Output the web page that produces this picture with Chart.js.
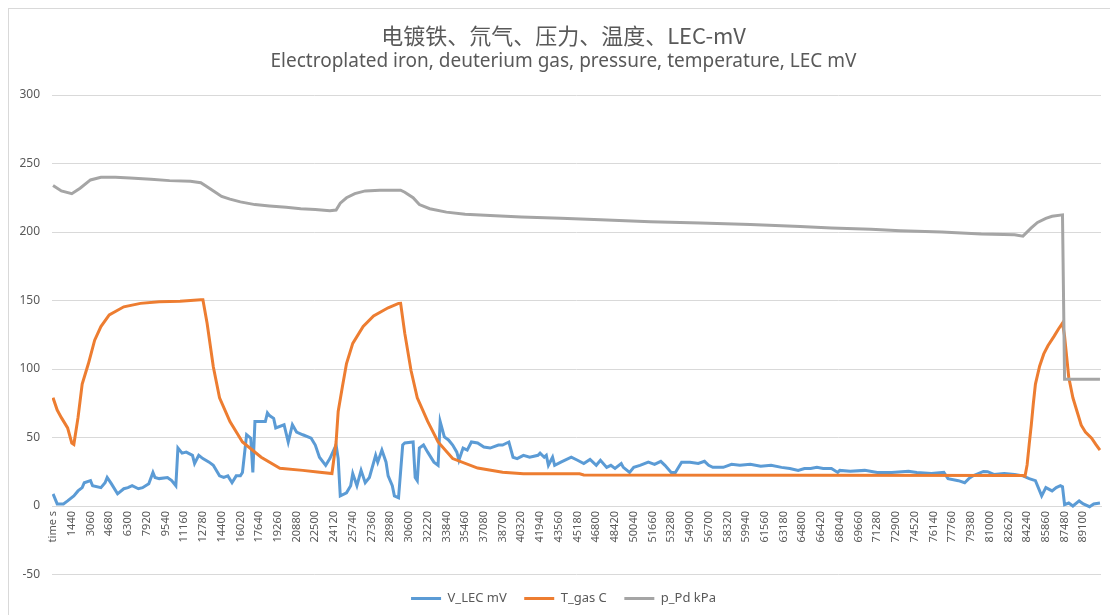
<!DOCTYPE html>
<html>
<head>
<meta charset="utf-8">
<title>LEC-mV</title>
<script src="https://cdn.jsdelivr.net/npm/chart.js@4/dist/chart.umd.min.js"></script>
<style>
  html, body { margin: 0; padding: 0; background: #fff; overflow: hidden; }
  #wrap { position: relative; width: 1110px; height: 615px; }
  #frame { position: absolute; left: 8px; top: 8px; width: 1120px; height: 640px; border: 1px solid #d9d9d9; }
  #c { position: absolute; left: 0; top: 0; }
</style>
</head>
<body>
<div id="wrap">
  <div id="frame"></div>
  <canvas id="c" width="1110" height="615"></canvas>
</div>
<script>
// category labels shown on the x axis (every 9th row of the sheet)
const xLabels = ['time s', '1440', '3060', '4680', '6300', '7920', '9540', '11160', '12780', '14400',
  '16020', '17640', '19260', '20880', '22500', '24120', '25740', '27360', '28980', '30600',
  '32220', '33840', '35460', '37080', '38700', '40320', '41940', '43560', '45180', '46800',
  '48420', '50040', '51660', '53280', '54900', '56700', '58320', '59940', '61560', '63180',
  '64800', '66420', '68040', '69660', '71280', '72900', '74520', '76140', '77760', '79380',
  '81000', '82620', '84240', '85860', '87480', '89100'];
const labelEvery = 9;
const rowCount = 504;

// V_LEC mV  (row number in the sheet, value)
const vlecRow = [0, 2, 5, 7, 10, 12, 14, 15, 18, 19, 23, 25, 26, 28, 31, 34, 36, 38, 41, 43,
  46, 48, 49, 51, 55, 57, 59, 60, 62, 64, 67, 68, 70, 72, 75, 77, 80, 82, 84, 86,
  88, 90, 91, 93, 95, 96, 97, 100, 102, 103, 104, 105, 106, 107, 111, 113, 115, 117, 120, 124,
  126, 128, 131, 133, 136, 137, 138, 141, 143, 144, 146, 148, 150, 152, 155, 156, 158, 160, 161, 163,
  164, 166, 168, 169, 173, 174, 175, 176, 178, 180, 183, 185, 186, 188, 190, 192, 194, 195, 197, 199,
  201, 204, 207, 210, 214, 216, 219, 221, 223, 226, 229, 233, 234, 236, 237, 238, 240, 241, 244, 249,
  252, 255, 258, 261, 263, 266, 268, 270, 273, 274, 277, 279, 282, 286, 289, 292, 294, 297, 299, 302,
  306, 310, 313, 315, 317, 322, 326, 330, 335, 340, 345, 350, 354, 358, 361, 364, 367, 370, 374, 377,
  378, 383, 390, 396, 403, 411, 415, 422, 428, 430, 435, 438, 440, 442, 447, 449, 452, 457, 462, 466,
  469, 472, 475, 477, 480, 482, 484, 485, 486, 488, 490, 493, 495, 498, 500, 503];
const vlecVal = [8.8, 1.5, 1.5, 3.7, 7.4, 11, 13.4, 17, 18.5, 14.8, 13.4, 17, 20.8, 16.3, 8.9, 12.6, 13.4, 14.8, 12.6, 13.4,
  16.3, 24.5, 20.8, 20, 20.8, 18.5, 14.8, 42.3, 38.6, 39.3, 37, 31, 37, 34.6, 32, 29.7, 22, 20.8, 22, 17,
  22, 22, 24.5, 52, 49.5, 24.5, 61.6, 61.6, 61.6, 68, 66, 65, 64, 57, 59.3, 46.7, 59.3, 54, 52, 49.5,
  44.5, 35.6, 29.7, 34.6, 44.5, 34.6, 7.4, 9.6, 14.8, 23.7, 14.8, 26, 17, 20.8, 37, 32, 40.8, 32, 22, 14.8,
  7.4, 6, 44.5, 46, 46.7, 20.8, 18.5, 42.3, 44.5, 39.3, 32, 29.7, 61.6, 50.4, 48.2, 44.5, 39.3, 33.4, 42.3, 40.8,
  46.7, 46, 43, 42.3, 44.5, 44.5, 46.7, 35.6, 34.6, 37, 35.6, 37, 38.6, 35.6, 37, 29.7, 35.6, 29.7, 32, 35.6,
  33.4, 31, 34, 29.7, 33.4, 28.2, 29.7, 27.4, 31, 28.2, 24.5, 28.2, 29.7, 32, 30.4, 32.6, 29.7, 24.5, 24.5, 32,
  32, 31, 32.6, 29.7, 28.2, 28.2, 30.4, 29.7, 30.4, 29, 29.7, 28.2, 27.4, 26, 27.4, 27.4, 28.2, 27.4, 27.4, 24.5,
  26, 25.4, 26, 24.5, 24.5, 25.4, 24.5, 23.7, 24.5, 20, 18.5, 17, 20, 22, 25.2, 25, 23, 23.7, 23, 22,
  20, 18.5, 7.4, 13.4, 11, 13.4, 14.8, 14, 1, 2.2, 0, 3.7, 1.5, -0.5, 1.5, 2.2];

// T_gas C
const tgasRow = [0, 2, 4, 7, 9, 10, 12, 14, 17, 20, 23, 27, 34, 42, 51, 61, 71, 72, 74, 77,
  80, 85, 91, 100, 109, 120, 127, 134, 136, 137, 139, 141, 144, 149, 154, 161, 166, 167, 169, 172,
  175, 180, 185, 192, 204, 216, 226, 253, 255, 466, 467, 468, 469, 470, 471, 472, 474, 476, 478, 481,
  483, 485, 486, 487, 488, 490, 492, 494, 496, 499, 501, 503];
const tgasVal = [79, 70, 64.5, 57, 46, 45, 64.5, 89, 104, 121, 131, 139.5, 145.4, 147.9, 149, 149.5, 150.5, 150.5, 133.5, 101.6,
  79, 61.6, 46.7, 35.6, 27.6, 26, 24.8, 23.7, 46.7, 69, 86.8, 104, 118.7, 131, 138.7, 144.7, 147.9, 148, 126, 98.9,
  79, 61.7, 46.7, 34.6, 27.7, 24.7, 23.5, 23.5, 22.7, 22.2, 21.8, 30, 45, 59, 75, 89, 102, 111, 117, 124,
  129, 133.5, 124, 109, 94, 79, 69, 59, 54, 49.5, 45, 40.8];

// p_Pd kPa
const ppdRow = [0, 4, 9, 13, 18, 23, 30, 37, 47, 56, 66, 71, 74, 78, 81, 85, 90, 97, 104, 112,
  119, 126, 133, 136, 138, 141, 145, 150, 157, 167, 169, 173, 176, 181, 189, 198, 210, 225, 244, 263,
  287, 311, 335, 359, 374, 393, 407, 427, 446, 462, 466, 470, 473, 477, 480, 485, 486, 503];
const ppdVal = [234, 230, 228, 232, 238, 240, 240, 239.5, 238.5, 237.5, 237, 236, 233, 229, 226, 224, 222, 220, 219, 218,
  217, 216.5, 215.5, 216, 221, 225, 228, 230, 230.5, 230.5, 229, 225, 220, 217, 214.5, 213, 212, 211, 210, 209,
  207.5, 206.5, 205.5, 204, 203, 202, 201, 200, 198.5, 198, 197, 203, 207, 210, 211.5, 212.5, 92.5, 92.5];

function points(rows, vals) {
  return rows.map((r, i) => ({ x: r, y: vals[i] }));
}

const textColor = '#595959';
Chart.defaults.font.family = "'Noto Sans', 'DejaVu Sans', sans-serif";
Chart.defaults.color = textColor;

function lineSet(label, rows, vals, color, order) {
  return {
    label: label,
    data: points(rows, vals),
    borderColor: color,
    backgroundColor: color,
    borderWidth: 3,
    pointRadius: 0,
    tension: 0,
    order: order
  };
}

new Chart(document.getElementById('c'), {
  type: 'line',
  data: {
    datasets: [
      lineSet('V_LEC mV', vlecRow, vlecVal, '#5B9BD5', 2),
      lineSet('T_gas C', tgasRow, tgasVal, '#ED7D31', 1),
      lineSet('p_Pd kPa', ppdRow, ppdVal, '#A5A5A5', 0)
    ]
  },
  options: {
    responsive: false,
    animation: false,
    // left padding is wider so the titles and legend centre like the original
    layout: { padding: { left: 26, right: 9, top: 0, bottom: 0 } },
    plugins: {
      title: {
        display: true,
        text: '电镀铁、氘气、压力、温度、LEC-mV',
        color: textColor,
        font: { family: "'Noto Sans CJK SC', sans-serif", size: 22, weight: 'normal' },
        padding: { top: 22, bottom: 2 }
      },
      subtitle: {
        display: true,
        text: 'Electroplated iron, deuterium gas, pressure, temperature, LEC mV',
        color: textColor,
        font: { size: 19 },
        padding: { top: 0, bottom: 21.8 }
      },
      legend: {
        position: 'bottom',
        labels: {
          usePointStyle: true,
          pointStyle: 'line',
          pointStyleWidth: 30,
          padding: 17.5,
          color: textColor,
          font: { size: 13 },
          sort: (a, b) => a.datasetIndex - b.datasetIndex
        }
      },
      tooltip: { enabled: false }
    },
    scales: {
      x: {
        type: 'linear',
        position: { y: 0 },
        min: -0.5,
        max: rowCount - 0.5,
        grid: { display: false, drawTicks: false },
        border: { display: true, color: '#d9d9d9', width: 1 },
        afterBuildTicks: axis => {
          axis.ticks = xLabels.map((l, i) => ({ value: i * labelEvery }));
        },
        ticks: {
          autoSkip: false,
          minRotation: 90,
          maxRotation: 90,
          padding: 5,
          color: textColor,
          font: { size: 11 },
          callback: (v, i) => xLabels[i]
        }
      },
      y: {
        min: -50,
        max: 300,
        ticks: { stepSize: 50, padding: 12, color: textColor, font: { size: 12 } },
        grid: { color: '#d9d9d9', drawTicks: false },
        border: { display: false },
        afterFit: s => {
          s.width = 26;
          // narrow axis box: don't clip the tick labels to it
          s._computeLabelArea = () => undefined;
        }
      }
    }
  }
});
</script>
</body>
</html>
